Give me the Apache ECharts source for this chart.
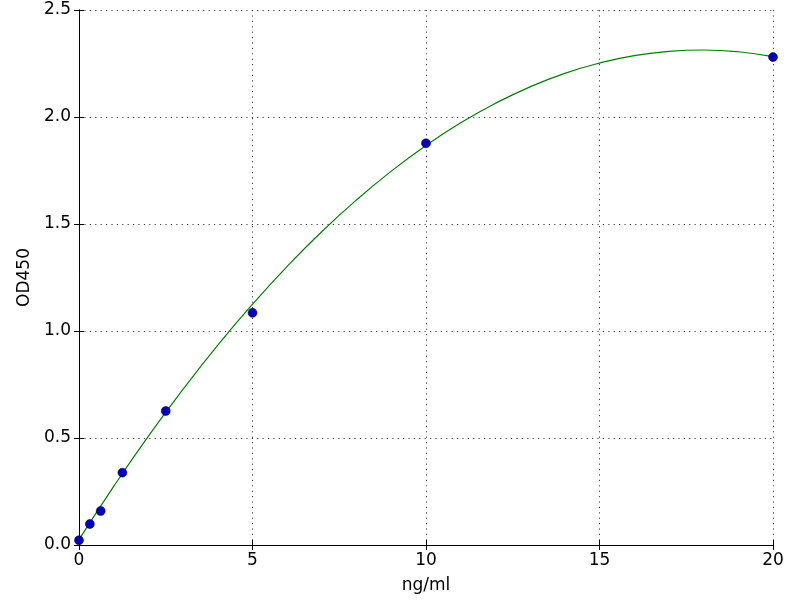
<!DOCTYPE html>
<html>
<head>
<meta charset="utf-8">
<script src="https://cdn.jsdelivr.net/npm/echarts@6/dist/echarts.min.js"></script>
<style>html,body{margin:0;padding:0;background:#fff}#c{width:800px;height:600px}</style>
</head>
<body>
<div id="c"></div>
<script>
// Measured standards
const pointX = [0, 0.3125, 0.625, 1.25, 2.5, 5, 10, 20];
const pointY = [0.022, 0.098, 0.159, 0.338, 0.626, 1.085, 1.877, 2.28];
// Fitted curve
const curveX = [0, 1, 2, 3, 4, 5, 6, 7, 8, 9, 10, 11, 12, 13, 14, 15, 16, 17, 18, 19, 20];
const curveY = [0.025, 0.274, 0.509, 0.728, 0.934, 1.125, 1.302, 1.465, 1.613, 1.747, 1.867, 1.973, 2.064, 2.141, 2.204, 2.252, 2.287, 2.307, 2.313, 2.305, 2.282];
const xTicks = [0, 5, 10, 15, 20];
const yTicks = [0.0, 0.5, 1.0, 1.5, 2.0, 2.5];

const font = 'DejaVu Sans';
const chart = echarts.init(document.getElementById('c'), null, {renderer: 'canvas'});
const gridLine = {show: true, lineStyle: {color: '#444', type: [1.2, 4.2], width: 1}};
const tick = {show: true, inside: true, length: 5, lineStyle: {color: '#000', width: 1}};
const axLine = {show: true, lineStyle: {color: '#000', width: 1}};
chart.setOption({
  animation: false,
  backgroundColor: '#fff',
  grid: {left: 79, right: 27, top: 10, bottom: 55, containLabel: false},
  xAxis: [{
    type: 'value', min: xTicks[0], max: xTicks[xTicks.length - 1], interval: 5,
    name: 'ng/ml', nameLocation: 'middle', nameGap: 32,
    nameTextStyle: {fontFamily: font, fontSize: 17, color: '#000'},
    axisLine: axLine, axisTick: tick, splitLine: gridLine,
    axisLabel: {fontFamily: font, fontSize: 17, color: '#000', margin: 7}
  }, {
    type: 'value', position: 'top', min: 0, max: 20, interval: 5,
    axisLine: axLine, axisTick: tick, splitLine: {show: false}, axisLabel: {show: false}
  }],
  yAxis: [{
    type: 'value', min: yTicks[0], max: yTicks[yTicks.length - 1], interval: 0.5,
    name: 'OD450', nameLocation: 'middle', nameGap: 46, nameRotate: 90,
    nameTextStyle: {fontFamily: font, fontSize: 17, color: '#000'},
    axisLine: axLine, axisTick: tick, splitLine: gridLine,
    axisLabel: {fontFamily: font, fontSize: 17, color: '#000', margin: 8, formatter: v => v.toFixed(1)}
  }, {
    type: 'value', position: 'right', min: 0, max: 2.5, interval: 0.5,
    axisLine: axLine, axisTick: tick, splitLine: {show: false}, axisLabel: {show: false}
  }],
  series: [{
    type: 'line', xAxisIndex: 0, yAxisIndex: 0,
    data: curveX.map((x, i) => [x, curveY[i]]),
    smooth: true, showSymbol: false, symbol: 'none',
    lineStyle: {color: '#008000', width: 1.2}, z: 2
  }, {
    type: 'scatter', xAxisIndex: 0, yAxisIndex: 0,
    data: pointX.map((x, i) => [x, pointY[i]]),
    symbol: 'circle', symbolSize: 9,
    itemStyle: {color: '#0000c8', borderColor: '#000', borderWidth: 0.5, opacity: 1},
    z: 3, clip: false
  }]
});
</script>
</body>
</html>
